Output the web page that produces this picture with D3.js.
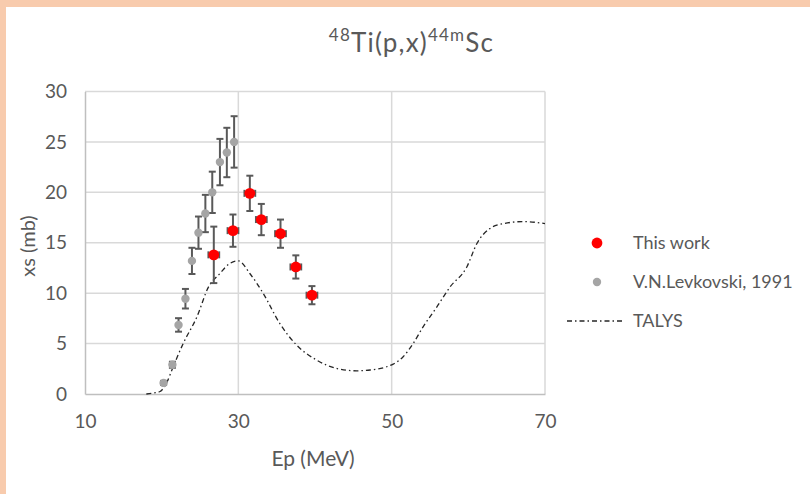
<!DOCTYPE html>
<html>
<head>
<meta charset="utf-8">
<script src="https://cdn.jsdelivr.net/npm/d3@7"></script>
<style>
  html, body { margin: 0; padding: 0; background: #fff; }
  svg { display: block; font-family: Lato, "Open Sans", sans-serif; }
</style>
</head>
<body>
<svg id="chart" width="810" height="494"></svg>
<script>
// Measured cross sections, this work: energy (MeV), xs (mb), errors
const thisWorkE    = [26.8, 29.3, 31.5, 33.0, 35.5, 37.5, 39.6];
const thisWorkXs   = [13.8, 16.2, 19.9, 17.3, 15.9, 12.6, 9.8];
const thisWorkErr  = [2.8, 1.6, 1.75, 1.55, 1.4, 1.15, 0.9];
const thisWorkEErr = [0.7, 0.7, 0.7, 0.7, 0.7, 0.7, 0.7];

// V.N.Levkovski, 1991
const levE   = [20.25, 21.4, 22.2, 23.1, 23.95, 24.8, 25.7, 26.6, 27.6, 28.5, 29.45];
const levXs  = [1.1, 2.9, 6.85, 9.45, 13.2, 16.0, 17.9, 20.0, 23.0, 23.95, 25.0];
const levErr = [0.2, 0.3, 0.67, 0.97, 1.3, 1.6, 1.85, 2.05, 2.3, 2.45, 2.55];

// TALYS calculation
const talysE  = [18.0, 19.0, 19.8, 20.7, 21.5, 22.8, 24.6, 26.1, 27.6, 28.8, 30.0, 31.5, 33.25, 35.4, 37.6, 40.2, 42.8, 45.4, 47.2, 50.2, 51.5, 52.8, 54.1, 55.9, 57.6, 59.8, 61.1, 62.8, 64.6, 67.2, 70.0];
const talysXs = [0.0, 0.1, 0.25, 1.2, 2.7, 5.0, 7.65, 10.6, 11.95, 12.9, 13.2, 11.95, 9.97, 7.0, 4.85, 3.37, 2.54, 2.3, 2.38, 2.97, 3.7, 5.0, 6.66, 8.64, 10.6, 12.6, 14.9, 16.4, 16.9, 17.1, 16.9];

const xTicks = [10, 30, 50, 70];
const yTicks = [0, 5, 10, 15, 20, 25, 30];

const textColor = "#595959";
const gridColor = "#D9D9D9";
const barColor = "#595959";
const talysDash = "5,3,1.5,3";

const svg = d3.select("#chart");

// page frame
svg.append("rect").attr("x", 0).attr("y", 0).attr("width", 810).attr("height", 494).attr("fill", "#fff");
svg.append("rect").attr("x", 0).attr("y", 0).attr("width", 810).attr("height", 7).attr("fill", "#F8CBAD");
svg.append("rect").attr("x", 0).attr("y", 0).attr("width", 6).attr("height", 494).attr("fill", "#F8CBAD");

const x = d3.scaleLinear().domain([10, 70]).range([85, 545]);
const y = d3.scaleLinear().domain([0, 30]).range([394, 91.5]);

// gridlines
const grid = svg.append("g");
grid.selectAll("line.h").data(yTicks.filter(d => d > 0)).join("line")
  .attr("x1", x(10)).attr("x2", x(70))
  .attr("y1", d => y(d)).attr("y2", d => y(d))
  .attr("stroke", gridColor).attr("stroke-width", 1.5);
grid.selectAll("line.v").data(xTicks.filter(d => d > 10)).join("line")
  .attr("x1", d => x(d)).attr("x2", d => x(d))
  .attr("y1", y(0)).attr("y2", y(30))
  .attr("stroke", gridColor).attr("stroke-width", 1.5);

// axes
const xAxis = svg.append("g").attr("transform", `translate(0,${y(0)})`)
  .call(d3.axisBottom(x).tickValues(xTicks).tickSize(0).tickPadding(20.5));
const yAxis = svg.append("g").attr("transform", `translate(${x(10)},0)`)
  .call(d3.axisLeft(y).tickValues(yTicks).tickSize(0).tickPadding(18));
[xAxis, yAxis].forEach(a => {
  a.select(".domain").attr("stroke", "#BFBFBF").attr("stroke-width", 1.5);
  a.selectAll("text").attr("fill", textColor).attr("font-size", 19)
    .attr("font-family", "Lato, 'Open Sans', sans-serif");
});

// TALYS curve
const line = d3.line()
  .x((d, i) => x(talysE[i]))
  .y(d => y(d))
  .curve(d3.curveMonotoneX);
svg.append("path").datum(talysXs)
  .attr("d", line)
  .attr("fill", "none")
  .attr("stroke", "#262626")
  .attr("stroke-width", 1.3)
  .attr("stroke-dasharray", talysDash);

// error bars
const cap = 3.5;
function vBars(g, E, V, Err) {
  const sel = g.selectAll(null).data(V.map((v, i) => i)).join("g");
  sel.append("line")
    .attr("x1", i => x(E[i])).attr("x2", i => x(E[i]))
    .attr("y1", i => y(V[i] - Err[i])).attr("y2", i => y(V[i] + Err[i]));
  sel.append("line")
    .attr("x1", i => x(E[i]) - cap).attr("x2", i => x(E[i]) + cap)
    .attr("y1", i => y(V[i] + Err[i])).attr("y2", i => y(V[i] + Err[i]));
  sel.append("line")
    .attr("x1", i => x(E[i]) - cap).attr("x2", i => x(E[i]) + cap)
    .attr("y1", i => y(V[i] - Err[i])).attr("y2", i => y(V[i] - Err[i]));
}
function hBars(g, E, V, EErr) {
  const sel = g.selectAll(null).data(V.map((v, i) => i)).join("g");
  sel.append("line")
    .attr("x1", i => x(E[i] - EErr[i])).attr("x2", i => x(E[i] + EErr[i]))
    .attr("y1", i => y(V[i])).attr("y2", i => y(V[i]));
  sel.append("line")
    .attr("x1", i => x(E[i] - EErr[i])).attr("x2", i => x(E[i] - EErr[i]))
    .attr("y1", i => y(V[i]) - cap).attr("y2", i => y(V[i]) + cap);
  sel.append("line")
    .attr("x1", i => x(E[i] + EErr[i])).attr("x2", i => x(E[i] + EErr[i]))
    .attr("y1", i => y(V[i]) - cap).attr("y2", i => y(V[i]) + cap);
}

const levBars = svg.append("g").attr("stroke", barColor).attr("stroke-width", 2);
vBars(levBars, levE, levXs, levErr);
svg.append("g").selectAll("circle").data(levXs).join("circle")
  .attr("cx", (d, i) => x(levE[i])).attr("cy", d => y(d)).attr("r", 4.2)
  .attr("fill", "#A5A5A5");

const twBars = svg.append("g").attr("stroke", barColor).attr("stroke-width", 2);
vBars(twBars, thisWorkE, thisWorkXs, thisWorkErr);
hBars(twBars, thisWorkE, thisWorkXs, thisWorkEErr);
svg.append("g").selectAll("circle").data(thisWorkXs).join("circle")
  .attr("cx", (d, i) => x(thisWorkE[i])).attr("cy", d => y(d)).attr("r", 5.4)
  .attr("fill", "#FF0000");

// title
const title = svg.append("text").attr("x", 411.5).attr("y", 52)
  .attr("text-anchor", "middle").attr("fill", textColor).attr("font-size", 26)
  .attr("letter-spacing", 1.2);
title.append("tspan").text("48").attr("font-size", 17).attr("dy", -11);
title.append("tspan").text("Ti(p,x)").attr("dy", 11);
title.append("tspan").text("44m").attr("font-size", 17).attr("dy", -11);
title.append("tspan").text("Sc").attr("dy", 11);

// axis titles
svg.append("text").attr("x", 313).attr("y", 466)
  .attr("text-anchor", "middle").attr("fill", textColor).attr("font-size", 21)
  .text("Ep (MeV)");
svg.append("text").attr("transform", "translate(35,246) rotate(-90)")
  .attr("text-anchor", "middle").attr("fill", textColor).attr("font-size", 20)
  .text("xs (mb)");

// legend
const legend = svg.append("g").attr("font-size", 18).attr("fill", textColor);
legend.append("circle").attr("cx", 597).attr("cy", 243).attr("r", 5.4).attr("fill", "#FF0000");
legend.append("text").attr("x", 633).attr("y", 243).attr("dy", "0.35em").attr("fill", textColor).text("This work");
legend.append("circle").attr("cx", 597).attr("cy", 282).attr("r", 4.2).attr("fill", "#A5A5A5");
legend.append("text").attr("x", 633).attr("y", 282).attr("dy", "0.35em").attr("fill", textColor).text("V.N.Levkovski, 1991");
legend.append("line").attr("x1", 567).attr("x2", 624).attr("y1", 321).attr("y2", 321)
  .attr("stroke", "#262626").attr("stroke-width", 1.3).attr("stroke-dasharray", talysDash);
legend.append("text").attr("x", 633).attr("y", 321).attr("dy", "0.35em").attr("fill", textColor).text("TALYS");
</script>
</body>
</html>
